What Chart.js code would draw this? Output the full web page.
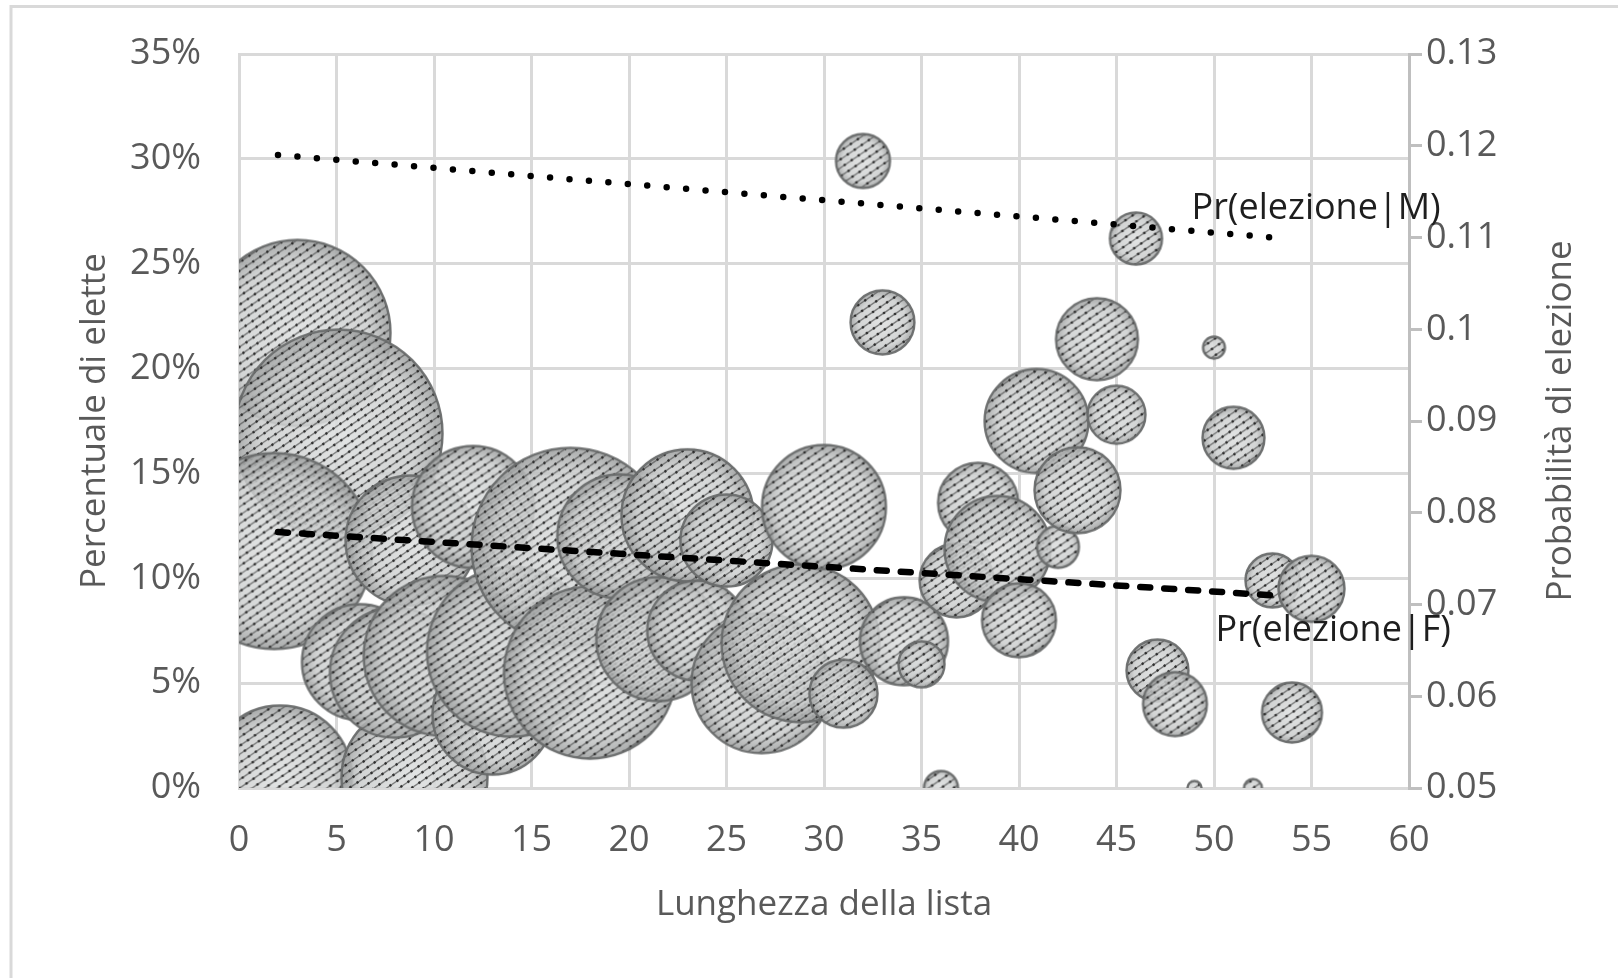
<!DOCTYPE html>
<html>
<head>
<meta charset="utf-8">
<script src="https://cdn.jsdelivr.net/npm/chart.js@4"></script>
<style>
  html, body { margin: 0; padding: 0; background: #fff; }
  #wrap { width: 1618px; height: 978px; }
</style>
</head>
<body>
<div id="wrap"><canvas id="grafico" width="1618" height="978"></canvas></div>
<script>
// valori
const lunghezza = [3, 5.1, 1.8, 2.1, 9, 6.2, 8.8, 12, 8, 10.5, 13, 14, 17, 18, 19.5, 21.5, 23, 23.5, 25, 26.8, 28.8, 30, 31,
  34.1, 35, 36, 36.8, 37.9, 38.9, 40, 40.9, 42, 43, 44, 45, 32, 33, 46, 50, 51, 47.1, 48, 49, 52, 53, 55, 54];
const percElette = [21.7, 16.9, 11.3, 0.5, 0.5, 6, 11.8, 13.4, 5.5, 6.3, 3.5, 6.5, 11.5, 5.5, 12, 7.1, 13, 7.5, 11.8, 5, 6.9, 13.4, 4.5,
  7, 5.9, 0, 9.9, 13.6, 11.4, 8, 17.5, 11.5, 14.2, 21.4, 17.8, 29.9, 22.2, 26.2, 21, 16.7, 5.6, 4, 0, 0, 9.9, 9.5, 3.6];
const dimensione = [86.5, 108.2, 96, 51.8, 53.3, 33.6, 42.3, 37.2, 42.3, 64, 36, 72.3, 98, 74, 38.4, 38.4, 43.6, 25, 21.2, 49, 62.4, 38.4, 11.6,
  19.4, 5.3, 2.9, 13.7, 16, 28.1, 13.7, 27, 4.4, 18.5, 16.8, 8.4, 7.3, 10.2, 6.8, 1.2, 9.6, 9.6, 10.2, 0.5, 0.8, 7.3, 10.9, 9];

const trendX = [2, 53];
const prM = [0.119, 0.110];
const prF = [0.0779, 0.0710];

const ticksX = [0, 5, 10, 15, 20, 25, 30, 35, 40, 45, 50, 55, 60];
const ticksY = [0, 5, 10, 15, 20, 25, 30, 35];
const ticksY2 = [0.05, 0.06, 0.07, 0.08, 0.09, 0.10, 0.11, 0.12, 0.13];

const FONT = '"Open Sans", "DejaVu Sans", sans-serif';
const GRIGIO = '#595959';
const titoloY2 = 'Probabilità di elezione';

const bolle = lunghezza.map((x, i) => ({ x: x, y: percElette[i], r: 10 * Math.sqrt(dimensione[i]) }));

// bolla grigia con tratteggio diagonale, come nel grafico Excel
const cache = {};
function immagineBolla(r) {
  const key = Math.round(r * 4);
  if (cache[key]) return cache[key];
  const bw = 2.4;
  const size = Math.ceil(2 * r + 2 * bw + 2);
  const c = document.createElement('canvas');
  c.width = size; c.height = size;
  const g = c.getContext('2d');
  const m = size / 2;

  g.beginPath();
  g.arc(m, m, r, 0, Math.PI * 2);
  const grad = g.createRadialGradient(m, m, 0, m, m, r);
  grad.addColorStop(0, 'rgba(222,224,224,0.86)');
  grad.addColorStop(0.75, 'rgba(204,206,206,0.86)');
  grad.addColorStop(1, 'rgba(160,162,162,0.9)');
  g.fillStyle = grad;
  g.fill();

  g.save();
  g.clip();
  const ang = Math.atan2(-0.68, 1);
  const dx = Math.cos(ang), dy = Math.sin(ang);
  const nx = -dy, ny = dx;
  const passo = 7;
  const n = Math.ceil(size / passo) + 1;
  for (let k = -n; k <= n; k++) {
    const px = m + nx * k * passo, py = m + ny * k * passo;
    g.beginPath();
    g.moveTo(px - dx * size, py - dy * size);
    g.lineTo(px + dx * size, py + dy * size);
    g.setLineDash([]);
    g.strokeStyle = 'rgba(85,87,87,0.75)';
    g.lineWidth = 1.4;
    g.stroke();
    g.setLineDash([2.2, 6.3]);
    g.strokeStyle = 'rgba(40,40,40,0.95)';
    g.lineWidth = 2.4;
    g.stroke();
  }
  g.restore();

  g.beginPath();
  g.arc(m, m, r, 0, Math.PI * 2);
  g.setLineDash([]);
  g.lineWidth = bw;
  g.strokeStyle = 'rgba(105,107,107,0.95)';
  g.stroke();

  cache[key] = c;
  return c;
}

const cornice = {
  id: 'cornice',
  beforeDraw(chart) {
    const c = chart.ctx;
    c.save();
    c.fillStyle = '#fff';
    c.fillRect(0, 0, chart.width, chart.height);
    c.strokeStyle = '#d9d9d9';
    c.lineWidth = 3;
    c.beginPath();
    c.moveTo(11, chart.height);
    c.lineTo(11, 6.5);
    c.lineTo(chart.width, 6.5);
    c.stroke();
    c.restore();
  }
};

// etichette delle linee di tendenza e titolo dell'asse destro (ruotato come in Excel)
const etichette = {
  id: 'etichette',
  afterDatasetsDraw(chart) {
    const c = chart.ctx;
    c.save();
    c.font = '36px ' + FONT;
    c.fillStyle = '#1e1e1e';
    c.textBaseline = 'middle';
    c.textAlign = 'left';
    [[0, -81, -29], [1, -57, 35]].forEach(([i, ox, oy]) => {
      const meta = chart.getDatasetMeta(i);
      const p = meta.data[meta.data.length - 1];
      c.fillText(chart.data.datasets[i].label, p.x + ox, p.y + oy);
    });
    c.restore();
  },
  afterDraw(chart) {
    const c = chart.ctx;
    const s = chart.scales.y2;
    c.save();
    c.translate(s.right - 57, (chart.chartArea.top + chart.chartArea.bottom) / 2);
    c.rotate(-Math.PI / 2);
    c.font = '35px ' + FONT;
    c.fillStyle = GRIGIO;
    c.textAlign = 'center';
    c.textBaseline = 'middle';
    c.fillText(titoloY2, 0, 0);
    c.restore();
  }
};

const tickFont = { family: FONT, size: 36, lineHeight: 1.2 };
const titleFont = { family: FONT, size: 35, lineHeight: 1.2 };

new Chart(document.getElementById('grafico'), {
  type: 'bubble',
  data: {
    datasets: [
      {
        type: 'line',
        label: 'Pr(elezione|M)',
        data: trendX.map((x, i) => ({ x: x, y: prM[i] })),
        yAxisID: 'y2',
        borderColor: '#000',
        borderWidth: 6.5,
        borderDash: [0, 19.5],
        borderCapStyle: 'round',
        pointRadius: 0,
        order: 0
      },
      {
        type: 'line',
        label: 'Pr(elezione|F)',
        data: trendX.map((x, i) => ({ x: x, y: prF[i] })),
        yAxisID: 'y2',
        borderColor: '#000',
        borderWidth: 6.5,
        borderDash: [10, 14],
        borderCapStyle: 'round',
        pointRadius: 0,
        order: 1
      },
      {
        label: 'Liste',
        data: bolle,
        yAxisID: 'y',
        pointStyle: ctx => (ctx.raw ? immagineBolla(ctx.raw.r) : 'circle'),
        backgroundColor: 'rgba(200,200,200,0.8)',
        borderColor: '#707272',
        clip: 0,
        order: 2
      }
    ]
  },
  options: {
    responsive: false,
    animation: false,
    devicePixelRatio: 1,
    events: [],
    layout: { autoPadding: false, padding: { left: 10, top: 54, right: 0, bottom: 0 } },
    plugins: { legend: { display: false }, tooltip: { enabled: false } },
    scales: {
      x: {
        type: 'linear',
        min: 0,
        max: 60,
        afterBuildTicks: s => { s.ticks = ticksX.map(v => ({ value: v })); },
        afterFit: s => { s.height = 190; },
        grid: { color: '#d9d9d9', lineWidth: 3, drawTicks: false },
        border: { color: '#d9d9d9', width: 3 },
        ticks: { color: GRIGIO, font: tickFont, padding: 31, maxRotation: 0 },
        title: { display: true, text: 'Lunghezza della lista', color: GRIGIO, font: titleFont, padding: { top: 0, bottom: 52 } }
      },
      y: {
        position: 'left',
        min: 0,
        max: 35,
        afterBuildTicks: s => { s.ticks = ticksY.map(v => ({ value: v })); },
        afterFit: s => { s.width = 229; s.paddingTop = 0; s.paddingBottom = 0; },
        grid: { color: '#d9d9d9', lineWidth: 3, drawTicks: false },
        border: { color: '#d9d9d9', width: 3 },
        ticks: { color: GRIGIO, font: tickFont, padding: 38, callback: v => v + '%' },
        title: { display: true, text: 'Percentuale di elette', color: GRIGIO, font: titleFont, padding: { top: 64, bottom: 0 } }
      },
      y2: {
        position: 'right',
        min: 0.05,
        max: 0.13,
        afterBuildTicks: s => { s.ticks = ticksY2.map(v => ({ value: v })); },
        afterFit: s => { s.width = 209; s.paddingTop = 0; s.paddingBottom = 0; },
        grid: { drawOnChartArea: false, drawTicks: true, tickLength: 13, color: '#bfbfbf', lineWidth: 3 },
        border: { color: '#bfbfbf', width: 3 },
        ticks: { color: GRIGIO, font: tickFont, padding: 4, callback: v => String(Number(v.toFixed(2))) },
        title: { display: false }
      }
    }
  },
  plugins: [cornice, etichette]
});
</script>
</body>
</html>
